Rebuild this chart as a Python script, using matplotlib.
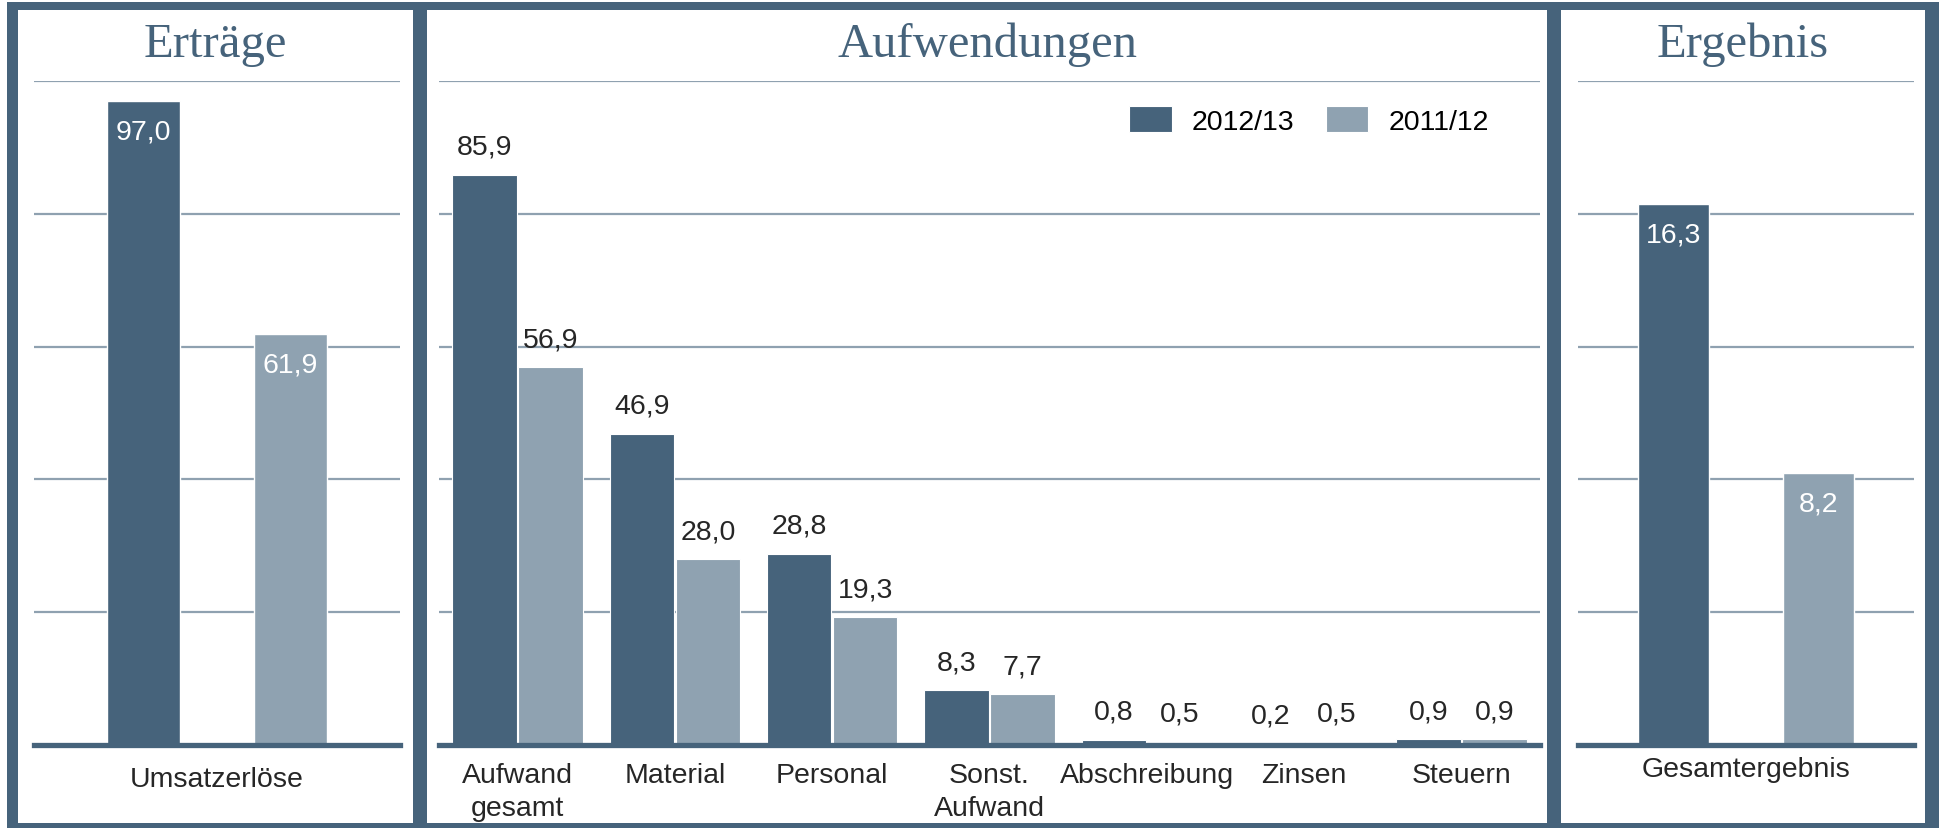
import numpy as np
import matplotlib.pyplot as plt
from matplotlib.patches import Rectangle

seasons = ['2012/13', '2011/12']

ertraege_cats = ['Umsatzerlöse']
ertraege_2012 = [97.0]
ertraege_2011 = [61.9]

aufw_cats = ['Aufwand\ngesamt', 'Material', 'Personal', 'Sonst.\nAufwand',
             'Abschreibung', 'Zinsen', 'Steuern']
aufw_2012 = [85.9, 46.9, 28.8, 8.3, 0.8, 0.2, 0.9]
aufw_2011 = [56.9, 28.0, 19.3, 7.7, 0.5, 0.5, 0.9]

ergeb_cats = ['Gesamtergebnis']
ergeb_2012 = [16.3]
ergeb_2011 = [8.2]

dark = '#46637b'
light = '#8fa2b1'
grid_col = '#8fa1b0'
txt = '#262626'
fs = 20.5

W, H = 1939, 829
fig = plt.figure(figsize=(W / 100, H / 100), dpi=100)
fig.patch.set_facecolor('white')


def rect(x0, y0, x1, y1, color):
    # pixel box (top-left origin) -> figure fraction
    r = Rectangle((x0 / W, 1 - y1 / H), (x1 - x0) / W, (y1 - y0) / H,
                  transform=fig.transFigure, facecolor=color, edgecolor='none', zorder=-10)
    fig.patches.append(r)


rect(7, 3, W, H, dark)
for x0, x1 in [(18, 413), (427, 1547), (1561, 1925)]:
    rect(x0, 11, x1, 824, 'white')


def fmt(v):
    return f'{v:.1f}'.replace('.', ',')


def make_ax(x0, x1, ymax):
    ax = fig.add_axes([x0 / W, 83 / H, (x1 - x0) / W, 664 / H])
    ax.set_facecolor('none')
    ax.set_ylim(0, ymax)
    for s in ax.spines.values():
        s.set_visible(False)
    ax.set_yticks([])
    for y in np.linspace(0, ymax, 6)[1:]:
        ax.axhline(y, color=grid_col, lw=1.6, zorder=0)
    ax.axhline(0, color=dark, lw=3.8, zorder=3, clip_on=False)
    return ax


plt.rcParams['font.family'] = ['Liberation Sans', 'DejaVu Sans']

# Erträge
ax1 = make_ax(34, 400, 100)
x = np.arange(len(ertraege_cats))
b1 = ax1.bar(x - 0.2, ertraege_2012, 0.2, color=dark, edgecolor='white', lw=1, zorder=2)
b2 = ax1.bar(x + 0.2, ertraege_2011, 0.2, color=light, edgecolor='white', lw=1, zorder=2)
ax1.set_xlim(-0.5, 0.5)
ax1.set_xticks(x, ertraege_cats, fontsize=fs, color=txt)
ax1.tick_params(length=0, pad=15)
for bars in (b1, b2):
    for r in bars:
        ax1.annotate(fmt(r.get_height()), (r.get_x() + r.get_width() / 2, r.get_height()),
                     xytext=(0, -22), textcoords='offset points', ha='center', va='center',
                     color='white', fontsize=fs)

# Aufwendungen
ax2 = make_ax(439, 1540, 100)
x = np.arange(len(aufw_cats))
b1 = ax2.bar(x - 0.21, aufw_2012, 0.41, color=dark, edgecolor='white', lw=0.8, zorder=2, label=seasons[0])
b2 = ax2.bar(x + 0.21, aufw_2011, 0.41, color=light, edgecolor='white', lw=0.8, zorder=2, label=seasons[1])
ax2.set_xlim(-0.5, len(aufw_cats) - 0.5)
ax2.set_xticks(x, aufw_cats, fontsize=fs, color=txt, linespacing=1.35)
ax2.tick_params(length=0, pad=12)
for bars in (b1, b2):
    for r in bars:
        ax2.annotate(fmt(r.get_height()), (r.get_x() + r.get_width() / 2, r.get_height()),
                     xytext=(0, 20), textcoords='offset points', ha='center', va='center',
                     color=txt, fontsize=fs)
ax2.legend(loc='center', bbox_to_anchor=(0.79, 0.9405), ncol=2, frameon=False,
           fontsize=fs, handlelength=1.5, handleheight=1.0, handletextpad=0.7,
           columnspacing=1.1, borderpad=0, labelcolor='black')

# Ergebnis
ax3 = make_ax(1578, 1914, 20)
x = np.arange(len(ergeb_cats))
b1 = ax3.bar(x - 0.215, ergeb_2012, 0.21, color=dark, edgecolor='white', lw=1, zorder=2)
b2 = ax3.bar(x + 0.215, ergeb_2011, 0.21, color=light, edgecolor='white', lw=1, zorder=2)
ax3.set_xlim(-0.5, 0.5)
ax3.set_xticks(x, ergeb_cats, fontsize=fs, color=txt)
ax3.tick_params(length=0, pad=8)
for bars in (b1, b2):
    for r in bars:
        ax3.annotate(fmt(r.get_height()), (r.get_x() + r.get_width() / 2, r.get_height()),
                     xytext=(0, -22), textcoords='offset points', ha='center', va='center',
                     color='white', fontsize=fs)

# panel titles
for cx, title in [(215, 'Erträge'), (987, 'Aufwendungen'), (1743, 'Ergebnis')]:
    fig.text(cx / W, 1 - 45 / H, title, ha='center', va='center', fontsize=35,
             family='Liberation Serif', color=dark)

fig.savefig('out.png', dpi=100)
